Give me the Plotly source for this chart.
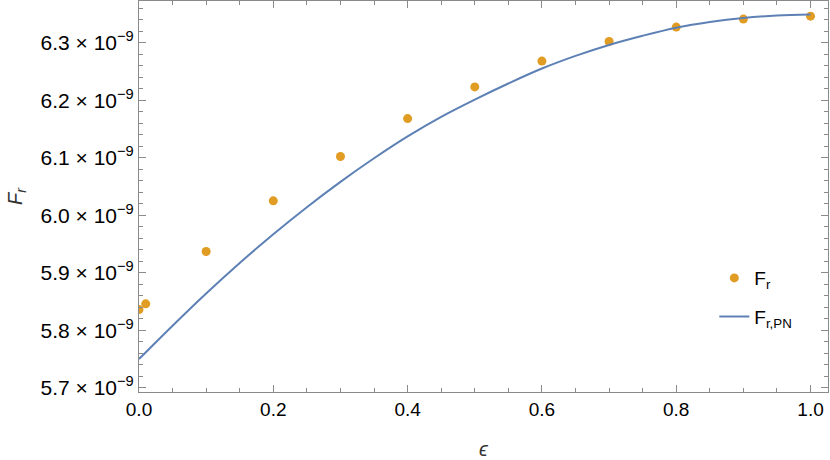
import plotly.graph_objects as go

# Data points (F_r)
eps_pts = [0.0, 0.01, 0.1, 0.2, 0.3, 0.4, 0.5, 0.6, 0.7, 0.8, 0.9, 1.0]
fr_pts = [5.836e-9, 5.846e-9, 5.937e-9, 6.025e-9, 6.102e-9, 6.168e-9,
          6.223e-9, 6.268e-9, 6.302e-9, 6.327e-9, 6.341e-9, 6.346e-9]

# Post-Newtonian curve (F_r,PN)
eps_line = [0.0, 0.05, 0.1, 0.15, 0.2, 0.25, 0.3, 0.35, 0.4, 0.45, 0.5,
            0.55, 0.6, 0.65, 0.7, 0.75, 0.8, 0.85, 0.9, 0.95, 1.0]
fr_line = [5.750e-9, 5.808e-9, 5.864e-9, 5.917e-9, 5.967e-9, 6.014e-9,
           6.058e-9, 6.099e-9, 6.137e-9, 6.171e-9, 6.201e-9, 6.229e-9,
           6.255e-9, 6.277e-9, 6.296e-9, 6.312e-9, 6.326e-9, 6.336e-9,
           6.343e-9, 6.347e-9, 6.349e-9]

y_tickvals = [5.7e-9, 5.8e-9, 5.9e-9, 6.0e-9, 6.1e-9, 6.2e-9, 6.3e-9]
y_ticktext = ["5.7 × 10<sup>−9</sup>", "5.8 × 10<sup>−9</sup>", "5.9 × 10<sup>−9</sup>",
              "6.0 × 10<sup>−9</sup>", "6.1 × 10<sup>−9</sup>", "6.2 × 10<sup>−9</sup>",
              "6.3 × 10<sup>−9</sup>"]
x_tickvals = [0.0, 0.2, 0.4, 0.6, 0.8, 1.0]
x_ticktext = ["0.0", "0.2", "0.4", "0.6", "0.8", "1.0"]

ORANGE = "#E19C24"
BLUE = "#5E81B5"
FRAME = "#8a8a8a"
FONT = "Liberation Sans, Arial, sans-serif"

fig = go.Figure()
fig.add_trace(go.Scatter(
    x=eps_pts, y=fr_pts, mode="markers", name="F<sub>r</sub>",
    marker=dict(color=ORANGE, size=9), legendgroup="a",
))
fig.add_trace(go.Scatter(
    x=eps_line, y=fr_line, mode="lines", name="F<sub>r,PN</sub>",
    line=dict(color=BLUE, width=2, shape="spline"), legendgroup="b",
))

axis_common = dict(
    showline=True, linecolor=FRAME, linewidth=1, mirror="ticks",
    ticks="inside", ticklen=7, tickcolor=FRAME, tickwidth=1,
    showgrid=False, zeroline=False, automargin=False,
)

fig.update_xaxes(
    range=[0, 1.026], tickvals=x_tickvals, ticktext=x_ticktext,
    tickfont=dict(family=FONT, size=19, color="#000"),
    minor=dict(ticks="inside", ticklen=4, tickcolor=FRAME, dtick=0.05, tick0=0, showgrid=False),
    title=dict(text="<i>ϵ</i>", font=dict(family=FONT, size=20, color="#333"), standoff=24),
    **axis_common,
)
fig.update_yaxes(
    range=[5.6927e-9, 6.3724e-9], tickvals=y_tickvals, ticktext=y_ticktext,
    tickfont=dict(family=FONT, size=21, color="#000"),
    minor=dict(ticks="inside", ticklen=4, tickcolor=FRAME, dtick=0.02e-9, tick0=5.7e-9, showgrid=False),
    title=dict(text="<i>F<sub>r</sub></i>", font=dict(family=FONT, size=20, color="#333"), standoff=12),
    **axis_common,
)

fig.update_layout(
    width=830, height=460,
    margin=dict(l=139, r=2, t=1, b=68),
    paper_bgcolor="white", plot_bgcolor="white",
    font=dict(family=FONT, size=18, color="#000"),
    legend=dict(
        x=0.835, y=0.34, xanchor="left", yanchor="top",
        bgcolor="rgba(0,0,0,0)", font=dict(family=FONT, size=19, color="#000"),
        tracegroupgap=11, itemwidth=30,
    ),
)

fig.write_html("out.html", config={"displayModeBar": False},
               post_script="document.body.style.margin='0';")
